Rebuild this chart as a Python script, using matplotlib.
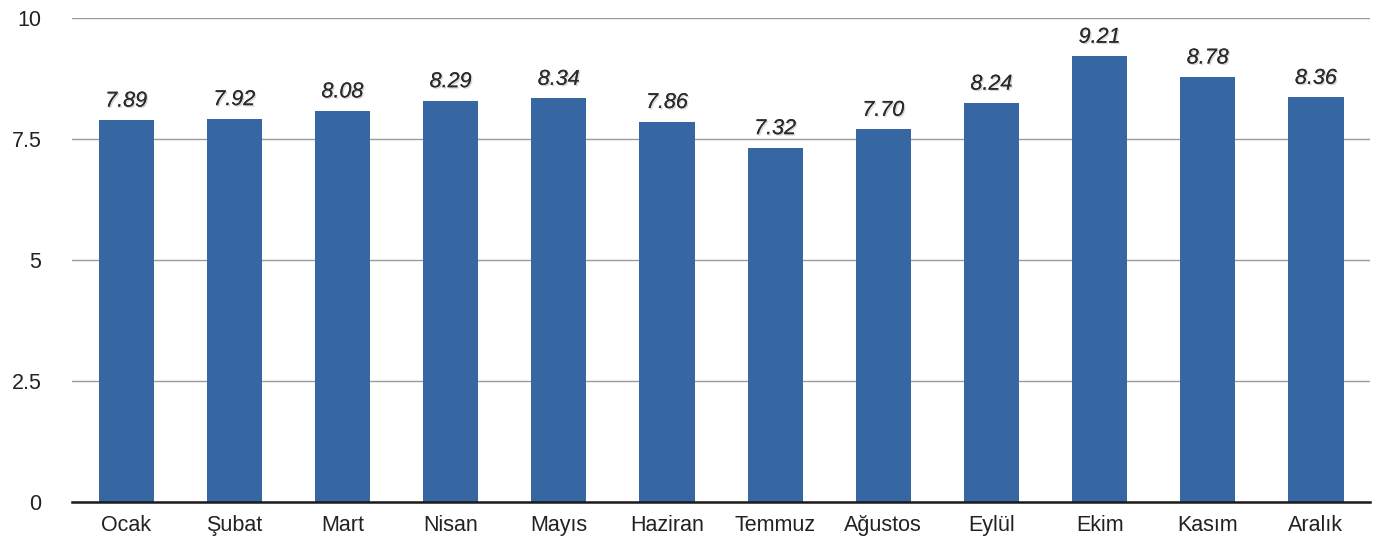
import matplotlib
matplotlib.use("Agg")
import matplotlib.pyplot as plt
import matplotlib.patheffects as pe

months = ["Ocak", "Şubat", "Mart", "Nisan", "Mayıs", "Haziran",
          "Temmuz", "Ağustos", "Eylül", "Ekim", "Kasım", "Aralık"]
values = [7.89, 7.92, 8.08, 8.29, 8.34, 7.86, 7.32, 7.70, 8.24, 9.21, 8.78, 8.36]
yticks = [0, 2.5, 5, 7.5, 10]
ytick_labels = ["0", "2.5", "5", "7.5", "10"]

plt.rcParams['font.family'] = ['Liberation Sans', 'DejaVu Sans']

fig = plt.figure(figsize=(13.94, 5.42), dpi=100)
ax = fig.add_axes([0.0517, 0.0738, 0.9311, 0.893])

x = list(range(len(months)))
ax.bar(x, values, width=0.51, color="#3767a2", zorder=3)

for xi, v in zip(x, values):
    ax.text(xi, v + 0.28, f"{v:.2f}", ha="center", va="baseline", fontsize=15.5,
            style="italic", color="#2b2b2b", zorder=4,
            path_effects=[pe.withSimplePatchShadow(offset=(1, -1), shadow_rgbFace="#bbbbbb", alpha=0.6),
                          pe.Normal()])

ax.set_xlim(-0.5, 11.5)
ax.set_ylim(0, 10)
ax.set_yticks(yticks)
ax.set_yticklabels(ytick_labels)
ax.set_xticks(x)
ax.set_xticklabels(months)
ax.tick_params(axis="both", length=0, labelsize=15.5, colors="#222222")
ax.tick_params(axis="y", pad=22)
ax.tick_params(axis="x", pad=9)

ax.yaxis.grid(True, color="#9a9a9a", linewidth=1.0, zorder=0)
ax.set_axisbelow(True)
for s in ["top", "right", "left"]:
    ax.spines[s].set_visible(False)
ax.spines["bottom"].set_color("#1a1a1a")
ax.spines["bottom"].set_linewidth(1.8)
ax.spines["bottom"].set_zorder(5)

fig.savefig("out.png", dpi=100, facecolor="white")
